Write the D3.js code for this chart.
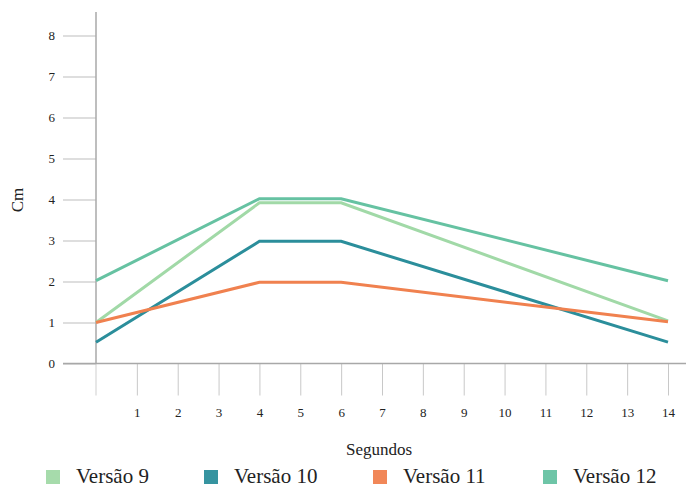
<!DOCTYPE html>
<html><head><meta charset="utf-8">
<script src="https://cdn.jsdelivr.net/npm/d3@7/dist/d3.min.js"></script>
<style>body{margin:0;background:#fff}svg{display:block}</style>
</head><body><svg id="c" width="686" height="488"></svg>
<script>
const seconds = [0, 4, 6, 14];
const seriesNames = ["Versão 9", "Versão 10", "Versão 11", "Versão 12"];
const v9 = [1, 3.92, 3.92, 1.04];
const v10 = [0.52, 2.98, 2.98, 0.52];
const v11 = [1, 1.98, 1.98, 1.02];
const v12 = [2.02, 4.02, 4.02, 2.02];
const colors = ["#a1d9a7", "#2b8e9b", "#f0814f", "#66c2a2"];
const xTicks = [1,2,3,4,5,6,7,8,9,10,11,12,13,14];
const yTicks = [0,1,2,3,4,5,6,7,8];
const FONT = "Liberation Serif";

const svg = d3.select("#c");
const x = d3.scaleLinear().domain([0,14]).range([96,668]);
const y = d3.scaleLinear().domain([0,8]).range([363.5,35.5]);

// y axis
const ya = svg.append("g").attr("transform","translate(96,0)")
  .call(d3.axisLeft(y).tickValues(yTicks).tickSize(33).tickPadding(8).tickFormat(d3.format("d")));
ya.attr("font-family",FONT);
ya.select(".domain").remove();
ya.selectAll(".tick line").attr("stroke","#bdbdbd");
ya.selectAll(".tick text").attr("font-size",13).attr("fill","#222").attr("font-family",FONT);
svg.append("line").attr("x1",96).attr("x2",96).attr("y1",12).attr("y2",363.5).attr("stroke","#a8a8a8").attr("stroke-width",1.5);

// x axis
const xa = svg.append("g").attr("transform","translate(0,363.5)")
  .call(d3.axisBottom(x).tickValues(xTicks).tickSize(32).tickPadding(12).tickFormat(d3.format("d")));
xa.attr("font-family",FONT);
xa.select(".domain").remove();
xa.selectAll(".tick line").attr("stroke","#c8c8c8");
xa.selectAll(".tick text").attr("font-size",13).attr("fill","#222").attr("font-family",FONT);
svg.append("line").attr("x1",96).attr("x2",96).attr("y1",363.5).attr("y2",395.5).attr("stroke","#cfcfcf");
svg.append("line").attr("x1",63).attr("x2",686).attr("y1",363.5).attr("y2",363.5).attr("stroke","#a8a8a8").attr("stroke-width",1.5);

// lines
const all = [v9, v10, v11, v12];
const line = d3.line().x((d,i)=>x(seconds[i])).y(d=>y(d));
all.forEach((s,k)=>{
  svg.append("path").datum(s).attr("d",line).attr("fill","none")
    .attr("stroke",colors[k]).attr("stroke-width",3);
});

// axis titles
svg.append("text").attr("x",379).attr("y",455).attr("text-anchor","middle")
  .attr("font-family",FONT).attr("font-size",17).attr("fill","#222").text("Segundos");
svg.append("text").attr("transform","translate(23,200) rotate(-90)").attr("text-anchor","middle")
  .attr("font-family",FONT).attr("font-size",17).attr("fill","#222").text("Cm");

// legend
const legX = [46, 204, 373, 543];
seriesNames.forEach((n,k)=>{
  svg.append("rect").attr("x",legX[k]).attr("y",470).attr("width",14).attr("height",14).attr("fill",colors[k]).attr("opacity",0.95);
  svg.append("text").attr("x",legX[k]+30).attr("y",483).attr("font-family",FONT).attr("font-size",21).attr("fill","#222").text(n);
});
</script></body></html>
